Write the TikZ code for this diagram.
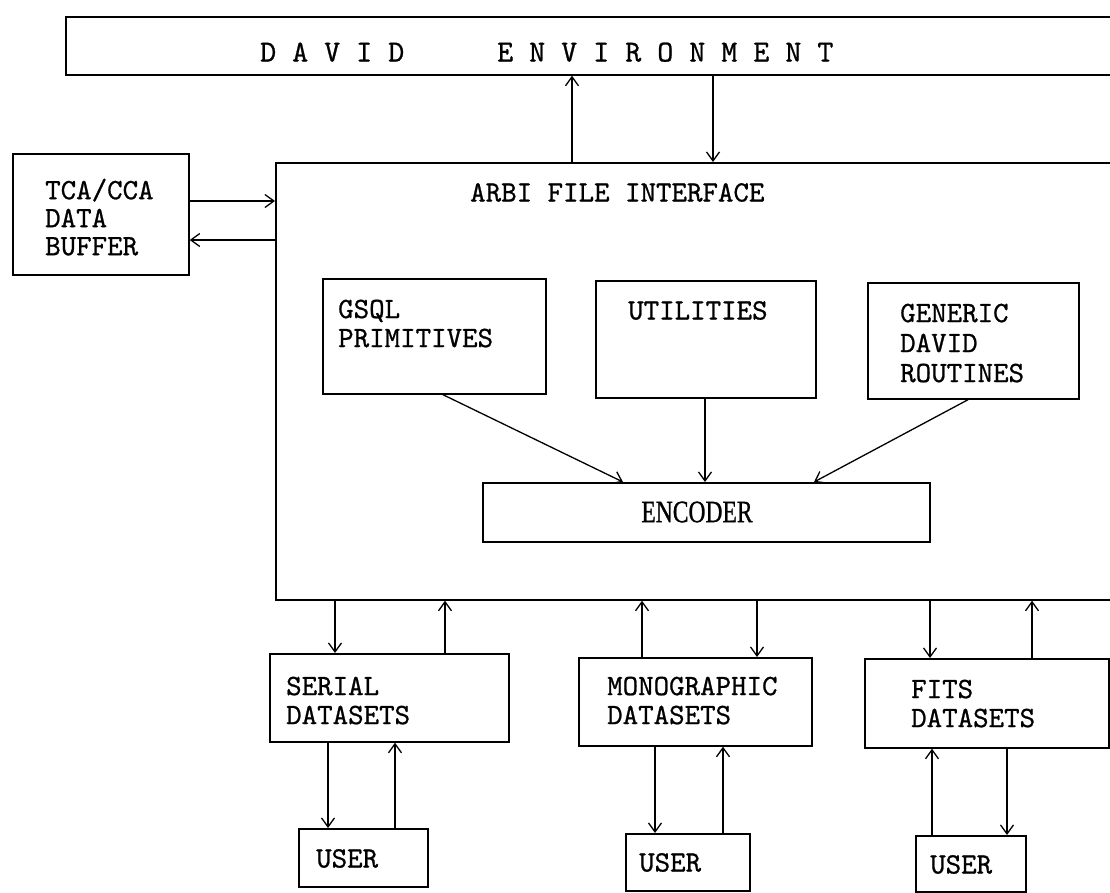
\documentclass[tikz,border=0pt]{standalone}
\usepackage{fontspec}
\usepackage{graphicx}
\newfontfamily\cour{lmmono10-regular.otf}[FakeBold=0.8]
\newfontfamily\encfont{Liberation Serif}[FakeBold=1]
\usetikzlibrary{arrows.meta}
\tikzset{
  boxst/.style={draw, line width=1.7pt, inner sep=0pt, anchor=north west},
  txt/.style={inner sep=0pt, font=\cour\fontsize{29.5}{29}\selectfont},
  ltxt/.style={txt, align=left, anchor=north west},
  btxt/.style={txt, anchor=base west},
  arr/.style={line width=1.3pt, -{Straight Barb[length=9pt,width=13pt,line width=1.3pt]}}
}
\begin{document}
\begin{tikzpicture}[x=1pt,y=-1pt]
\useasboundingbox (0,0) rectangle (1110,892);
\clip (0,0) rectangle (1110,892);
% boxes
\node[boxst, minimum width=1065pt, minimum height=58pt] (david) at (65,16) {};
\node[boxst, minimum width=860pt, minimum height=437pt] (arbi) at (275,162) {};
\node[boxst, minimum width=176pt, minimum height=121pt] (tca) at (12,153) {};
\node[boxst, minimum width=223pt, minimum height=115pt] (gsql) at (322,278) {};
\node[boxst, minimum width=220pt, minimum height=117pt] (util) at (595,280) {};
\node[boxst, minimum width=211pt, minimum height=116pt] (generic) at (867,282) {};
\node[boxst, minimum width=447pt, minimum height=59pt] (encoder) at (482,482) {};
\node[boxst, minimum width=239pt, minimum height=88pt] (serial) at (269,653) {};
\node[boxst, minimum width=233pt, minimum height=88pt] (mono) at (578,657) {};
\node[boxst, minimum width=244pt, minimum height=89pt] (fits) at (864,658) {};
\node[boxst, minimum width=129pt, minimum height=58pt] (user1) at (298,828) {};
\node[boxst, minimum width=124pt, minimum height=57pt] (user2) at (625,833) {};
\node[boxst, minimum width=110pt, minimum height=56pt] (user3) at (915,835) {};
% texts
\node[btxt, font=\cour\fontsize{30.5}{29}\selectfont] (tdavid) at (260,61.5) {D A V I D};
\node[btxt, font=\cour\fontsize{30.5}{29}\selectfont] (tenv) at (497,61.5) {E N V I R O N M E N T};
\node[btxt] (tarbi) at (470,201.5) {ARBI FILE INTERFACE};
\node[ltxt, font=\cour\fontsize{29.5}{28}\selectfont] (ttca) at (45,178.5) {TCA/CCA\\DATA\\BUFFER};
\node[ltxt] (tgsql) at (338,299.5) {GSQL\\PRIMITIVES};
\node[btxt] (tutil) at (628,319.5) {UTILITIES};
\node[ltxt, font=\cour\fontsize{29.5}{30}\selectfont] (tgen) at (900,303.5) {GENERIC\\DAVID\\ROUTINES};
\node[inner sep=0pt, font=\encfont\fontsize{31}{31}\selectfont] (tenc) at (697,512) {\scalebox{0.76}[1]{ENCODER}};
\node[ltxt] (tserial) at (286,676.5) {SERIAL\\DATASETS};
\node[ltxt] (tmono) at (607,676.5) {MONOGRAPHIC\\DATASETS};
\node[ltxt] (tfits) at (911,679.5) {FITS\\DATASETS};
\node[btxt] (tu1) at (316,867.5) {USER};
\node[btxt] (tu2) at (639,871.5) {USER};
\node[btxt] (tu3) at (930,873.5) {USER};
% connector x positions
\coordinate (x1) at (572,0);
\coordinate (x2) at (713,0);
\coordinate (y1) at (0,201);
\coordinate (y2) at (0,240);
\coordinate (gs) at (443,0);
\coordinate (ge) at (623,0);
\coordinate (ux) at (705,0);
\coordinate (rs) at (968,0);
\coordinate (re) at (814,0);
\coordinate (a1) at (335,0);
\coordinate (a2) at (445,0);
\coordinate (a3) at (642,0);
\coordinate (a4) at (757,0);
\coordinate (a5) at (930,0);
\coordinate (a6) at (1032,0);
\coordinate (b1) at (328,0);
\coordinate (b2) at (395,0);
\coordinate (b3) at (655,0);
\coordinate (b4) at (723,0);
\coordinate (b5) at (932,0);
\coordinate (b6) at (1007,0);
% connectors
\draw[arr] (arbi.north -| x1) -- (david.south -| x1);
\draw[arr] (david.south -| x2) -- (arbi.north -| x2);
\draw[arr] (tca.east |- y1) -- (arbi.west |- y1);
\draw[arr] (arbi.west |- y2) -- (tca.east |- y2);
\draw[arr] (gsql.south -| gs) -- (encoder.north -| ge);
\draw[arr] (util.south -| ux) -- (encoder.north -| ux);
\draw[arr] (generic.south -| rs) -- (encoder.north -| re);
\draw[arr] (arbi.south -| a1) -- (serial.north -| a1);
\draw[arr] (serial.north -| a2) -- (arbi.south -| a2);
\draw[arr] (mono.north -| a3) -- (arbi.south -| a3);
\draw[arr] (arbi.south -| a4) -- (mono.north -| a4);
\draw[arr] (arbi.south -| a5) -- (fits.north -| a5);
\draw[arr] (fits.north -| a6) -- (arbi.south -| a6);
\draw[arr] (serial.south -| b1) -- (user1.north -| b1);
\draw[arr] (user1.north -| b2) -- (serial.south -| b2);
\draw[arr] (mono.south -| b3) -- (user2.north -| b3);
\draw[arr] (user2.north -| b4) -- (mono.south -| b4);
\draw[arr] (user3.north -| b5) -- (fits.south -| b5);
\draw[arr] (fits.south -| b6) -- (user3.north -| b6);
\end{tikzpicture}
\end{document}
